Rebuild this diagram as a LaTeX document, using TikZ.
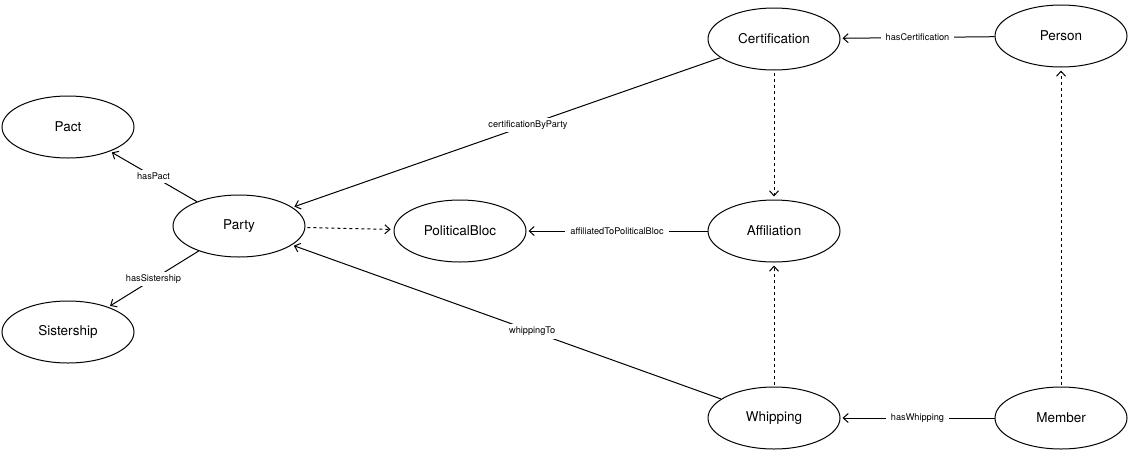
\documentclass[tikz,border=0pt]{standalone}
\usepackage{fontspec}
\setmainfont{TeX Gyre Heros}
\usetikzlibrary{positioning,arrows.meta,shapes.geometric}
\tikzset{cls/.style={draw,ellipse,minimum width=132pt,minimum height=62pt,inner sep=0pt,font=\fontsize{13.5}{15}\selectfont}}
\tikzset{lbl/.style={fill=white,inner xsep=5pt,inner ysep=3pt,font=\fontsize{9.2}{10}\selectfont}}
\tikzset{>={Straight Barb[length=5pt,width=9pt]}}

\begin{document}
\begin{tikzpicture}[x=1pt,y=-1pt,line width=1pt]
	\useasboundingbox (0,0) rectangle (1130,453);
		\node[cls] (pact) at (68,127) {Pact};
		\node[cls] (party) at (239,226) {Party};
		\node[cls] (sister) at (68,332) {Sistership};
		\node[cls] (bloc) at (460,231) {PoliticalBloc};
			\node[cls] (cert) at (774,39) {Certification};
			\node[cls] (person) at (1061,36) {Person};
			\node[cls] (affil) at (774,231) {Affiliation};
			\node[cls] (whip) at (774,418) {Whipping};
			\node[cls] (member) at (1061,418) {Member};
	\draw[->,shorten >=2pt] (party) -- node[lbl]{hasPact}(pact);
	\draw[->,shorten >=2pt] (party) -- node[lbl]{hasSistership}(sister);
	\draw[->,shorten >=2pt] (cert) -- node[lbl,pos=0.45]{certificationByParty}(party);
	\draw[->,shorten >=2pt] (whip) -- node[lbl,pos=0.44]{whippingTo}(party);
	\draw[->,shorten >=2pt] (affil) -- node[lbl]{affiliatedToPoliticalBloc}(bloc);
	\draw[->,shorten >=2pt] (person) -- node[lbl]{hasCertification}(cert);
	\draw[->,shorten >=2pt] (member) -- node[lbl]{hasWhipping}(whip);
		\draw[->,dashed,shorten <=2pt,shorten >=3pt] (party) -- (bloc);
		\draw[->,dashed,shorten <=2pt,shorten >=3pt] (cert) -- (affil);
		\draw[->,dashed,shorten <=2pt,shorten >=3pt] (whip) -- (affil);
		\draw[->,dashed,shorten <=2pt,shorten >=3pt] (member) -- (person);
\end{tikzpicture}
\end{document}
